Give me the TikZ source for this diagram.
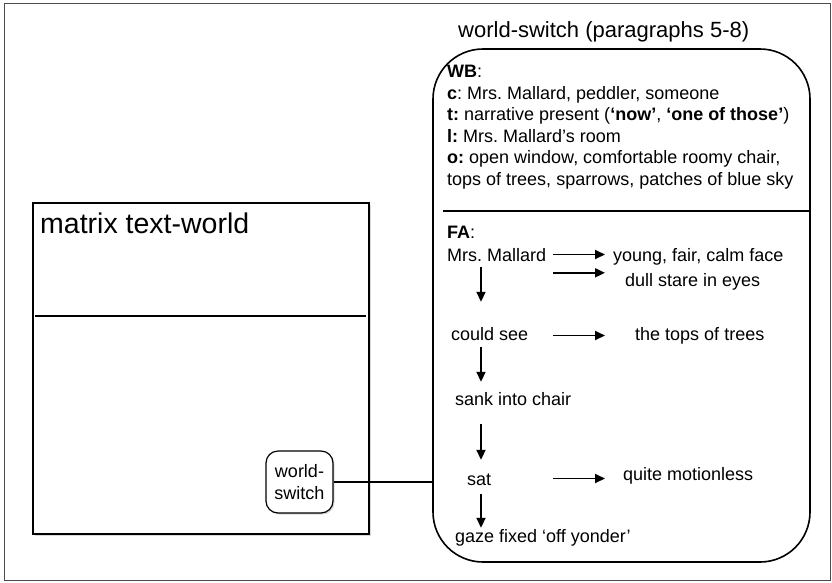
\documentclass[tikz,border=0pt]{standalone}
\usepackage{fontspec}
\setmainfont{Liberation Sans}
\usetikzlibrary{shadows,arrows.meta}
\frenchspacing
\begin{document}
\begin{tikzpicture}[x=1pt,y=-1pt,
		txt/.style={anchor=base west,inner sep=0pt,text height=13pt,text depth=4pt,
			font=\fontsize{18}{21.5}\selectfont},
		flow/.style={-{Triangle[length=10pt,width=9pt]},line width=1.8pt,shorten <=7pt,shorten >=8pt},
		down/.style={-{Triangle[length=10pt,width=9pt]},line width=1.8pt},
		soft/.style={drop shadow={shadow xshift=1.5pt,shadow yshift=-1.5pt,opacity=.3}}]
		\useasboundingbox (0,0) rectangle (832,582);
		\draw[gray!60!black,line width=1pt] (4,3) rectangle (830,580);
		% matrix text-world
		\node[draw,fill=white,soft,line width=1.8pt,minimum width=336pt,minimum height=331pt] (mtw) at (201,368.5) {};
		\node[anchor=base west,inner sep=0pt,font=\fontsize{28.5}{32}\selectfont] (mtwtitle) at (40,233) {matrix text-world};
		\coordinate (mtwcut) at (35,316);
		\draw[line width=1.5pt,shorten >=4pt] (mtwcut) -- (mtwcut -| mtw.east);
		\node[draw,fill=white,soft,line width=1.2pt,rounded corners=12pt,minimum width=67pt,minimum height=62pt,
			align=center,inner sep=2pt,font=\fontsize{18}{21.5}\selectfont] (ws) at (299.5,482) {world-\\switch};
		% world-switch
		\node[anchor=base west,inner sep=0pt,font=\fontsize{22}{26}\selectfont] (wstitle) at (458,37) {world-switch (paragraphs 5-8)};
		\node[draw,line width=1.6pt,rounded corners=50pt,minimum width=377pt,minimum height=513pt] (wsbox) at (621.5,305.5) {};
		\node[anchor=north west,inner sep=0pt,align=left,font=\fontsize{18}{21.5}\selectfont] (wb) at (447,65)
			{\textbf{WB}:\\
			 \textbf{c}: Mrs. Mallard, peddler, someone\\
			 \textbf{t:} narrative present (\textbf{‘now’}, \textbf{‘one of those’})\\
			 \textbf{l:} Mrs. Mallard’s room\\
			 \textbf{o:} open window, comfortable roomy chair,\\
			 tops of trees, sparrows, patches of blue sky};
		\coordinate (wbcut) at (443,211);
		\draw[line width=1.5pt] (wbcut) -- (wbcut -| wsbox.east);
		\path
			(447,238) node[txt] (fa)      {\textbf{FA}:}
			(447,261) node[txt] (mallard) {Mrs. Mallard}
			(613,261) node[txt] (young)   {young, fair, calm face}
			(625,286) node[txt] (dull)    {dull stare in eyes}
			(451,340) node[txt] (see)     {could see}
			(635,340) node[txt] (tops)    {the tops of trees}
			(455,405) node[txt] (sank)    {sank into chair}
			(467,485) node[txt] (sat)     {sat}
			(623,480) node[txt] (motion)  {quite motionless}
			(455,542) node[txt] (gaze)    {gaze fixed ‘off yonder’}
		;
		\coordinate (spine) at (481,0);
		\draw[flow] ([yshift=2pt]mallard.east) -> ([yshift=2pt]mallard.east -| young.west);
		\draw[flow] (mallard.east |- dull.north) -> (young.west |- dull.north);
		\draw[flow] (mallard.east |- see) -> (young.west |- see);
		\draw[flow] ([yshift=2pt]mallard.east |- sat) -> ([yshift=2pt]young.west |- sat);
		\draw[down,shorten <=2pt,shorten >=25pt]  (spine |- mallard.south) -> (spine |- see.north);
		\draw[down,shorten <=3pt,shorten >=10pt]  (spine |- see.south)     -> (spine |- sank.north);
		\draw[down,shorten <=15pt,shorten >=12pt] (spine |- sank.south)    -> (spine |- sat.north);
		\draw[down,shorten <=5pt,shorten >=1pt]   (spine |- sat.south)     -> (spine |- gaze.north);
		\draw[line width=1.2pt] (ws.east) -- (ws.east -| wsbox.west);
	\end{tikzpicture}
\end{document}
